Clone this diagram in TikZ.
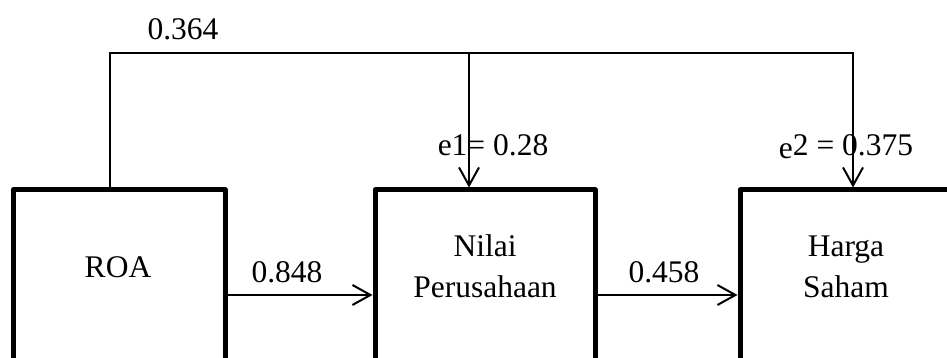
\documentclass[tikz,border=0pt]{standalone}
\usepackage{fontspec}
\setmainfont{Liberation Serif}
\usetikzlibrary{arrows.meta}
\begin{document}
\begin{tikzpicture}[x=1pt,y=-1pt,
  box/.style={draw, line width=5pt, line join=round, minimum width=#1, minimum height=210pt, anchor=north west, inner sep=0pt},
  wire/.style={line width=2pt},
  arr/.style={wire, -{Straight Barb[length=18pt,width=20pt,line width=2pt]}},
  txt/.style={font=\fontsize{31.5pt}{38pt}\selectfont, anchor=base, inner sep=0pt}]
\useasboundingbox (0,0) rectangle (947,358);
\clip (0,0) rectangle (947,358);
% boxes
\node[box=212pt] (roa) at (10.5,187.5) {};
\node[box=220pt] (nilai) at (372.5,187.5) {};
\node[box=212pt] (harga) at (737.5,187.5) {};
% box texts
\node[txt] (roat) at (118,277) {ROA};
\node[txt] (nilait1) at (485,256) {Nilai};
\node[txt] (nilait2) at (485,297) {Perusahaan};
\node[txt] (hargat1) at (846,256) {Harga};
\node[txt] (hargat2) at (846,297) {Saham};
% connectors
\coordinate (tl) at (110,53);
\coordinate (tm) at (469,53);
\coordinate (tr) at (853,53);
\draw[arr] (tl |- roa.north) -- (tl) -- (tr) -- (tr |- harga.north);
\draw[arr] (tm) -- (tm |- nilai.north);
\draw[arr] (roa.east) -- (nilai.west);
\draw[arr] (nilai.east) -- (harga.west);
% labels
\node[txt] (l364) at (183,40) {0.364};
\node[txt] (l848) at (287,282) {0.848};
\node[txt] (l458) at (664,282) {0.458};
\node[txt] (le1) at (493,156) {e1= 0.28};
\node[txt] (le2) at (846,156) {\raisebox{-3pt}{e}2 = 0.375};
\end{tikzpicture}
\end{document}
